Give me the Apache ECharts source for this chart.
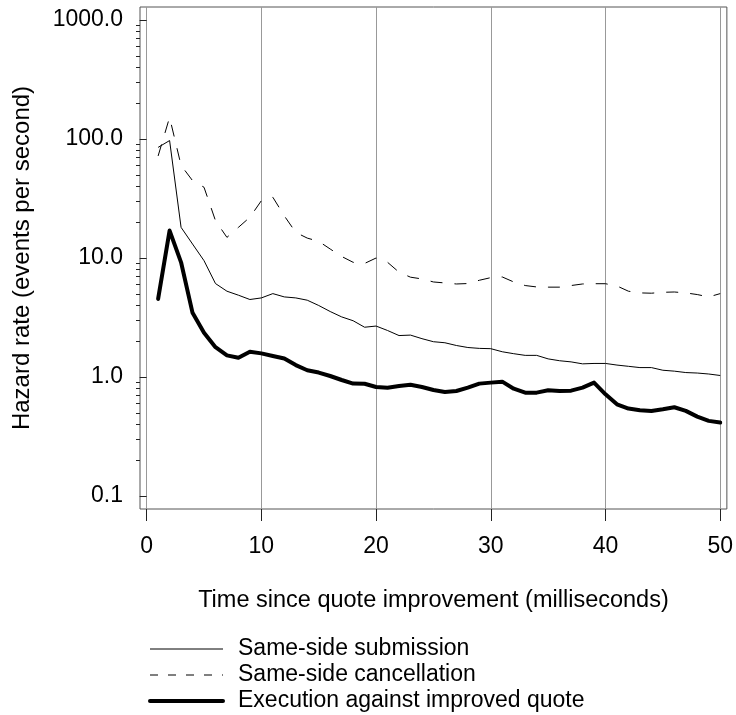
<!DOCTYPE html>
<html>
<head>
<meta charset="utf-8">
<script src="https://cdn.jsdelivr.net/npm/echarts@6/dist/echarts.min.js"></script>
<style>
  html, body { margin: 0; padding: 0; background: #fff; }
  #chart { width: 736px; height: 715px; }
</style>
</head>
<body>
<div id="chart"></div>
<script>
// Time since quote improvement, in milliseconds
const times = [1,2,3,4,5,6,7,8,9,10,11,12,13,14,15,16,17,18,19,20,21,22,23,24,25,
               26,27,28,29,30,31,32,33,34,35,36,37,38,39,40,41,42,43,44,45,46,47,48,49,50];

// Hazard rates (events per second)
const submission = [85, 97, 18.1, 13.1, 9.5, 6.1, 5.26, 4.87, 4.48, 4.62,
                    5.02, 4.71, 4.62, 4.42, 3.99, 3.55, 3.2, 2.97, 2.62, 2.68,
                    2.46, 2.23, 2.25, 2.1, 1.98, 1.94, 1.84, 1.77, 1.74, 1.73,
                    1.63, 1.57, 1.52, 1.52, 1.42, 1.37, 1.34, 1.29, 1.3, 1.3,
                    1.26, 1.23, 1.2, 1.2, 1.14, 1.12, 1.09, 1.08, 1.06, 1.03];

const cancellation = [72, 152, 60, 44.7, 39.3, 20.6, 14.9, 18.1, 22, 30.3,
                      32.4, 22.6, 16.4, 14.7, 13.8, 11.9, 10.3, 9.2, 9.0, 10.0,
                      9.2, 7.6, 6.9, 6.67, 6.29, 6.17, 6.05, 6.1, 6.5, 6.84,
                      6.93, 6.29, 5.87, 5.71, 5.69, 5.69, 5.87, 6.05, 6.08, 6.08,
                      5.82, 5.26, 5.09, 5.06, 5.15, 5.18, 5.09, 4.93, 4.71, 5.02];

const execution = [4.53, 17, 9.2, 3.46, 2.35, 1.78, 1.52, 1.45, 1.63, 1.58,
                   1.5, 1.43, 1.26, 1.14, 1.09, 1.02, 0.944, 0.88, 0.877, 0.825,
                   0.814, 0.84, 0.86, 0.824, 0.778, 0.749, 0.763, 0.814, 0.88, 0.897,
                   0.914, 0.798, 0.739, 0.739, 0.773, 0.763, 0.768, 0.814, 0.897, 0.716,
                   0.59, 0.543, 0.526, 0.519, 0.536, 0.557, 0.519, 0.465, 0.428, 0.414];

// Axis tick values
const xTicks = [0, 10, 20, 30, 40, 50];
const yTicks = [0.1, 1, 10, 100, 1000];
const yMinorTicks = [0.2, 0.3, 0.4, 0.5, 0.6, 0.7, 0.8, 0.9,
                     2, 3, 4, 5, 6, 7, 8, 9,
                     20, 30, 40, 50, 60, 70, 80, 90,
                     200, 300, 400, 500, 600, 700, 800, 900];

const seriesNames = ['Same-side submission', 'Same-side cancellation', 'Execution against improved quote'];

const FONT = '"Liberation Sans", Arial, Helvetica, sans-serif';
const pairs = arr => times.map((t, i) => [t, arr[i]]);

// Axis ranges padded a little beyond the first/last tick
const X_MIN = -0.58, X_MAX = 50.58;
const Y_MIN = Math.pow(10, -1.109), Y_MAX = Math.pow(10, 3.109);

// Line looks for the plotted curves and their legend keys
const lineLooks = [
  { color: '#000', width: 1, type: 'solid' },
  { color: '#000', width: 1, type: [12, 12] },
  { color: '#000', width: 4, type: 'solid' }
];
const legendLooks = [
  { color: '#000', width: 1, type: 'solid' },
  { color: '#000', width: 1, type: [8, 10] },
  { color: '#000', width: 4, type: 'solid' }
];

const chart = echarts.init(document.getElementById('chart'), null, { renderer: 'canvas' });

chart.setOption({
  animation: false,
  backgroundColor: '#fff',
  textStyle: { fontFamily: FONT, color: '#000' },
  grid: {
    left: 140, right: 6, top: 7, bottom: 206,
    show: true, borderColor: '#555', borderWidth: 1, backgroundColor: 'transparent'
  },
  legend: {
    orient: 'vertical',
    left: 148, top: 637,
    padding: 0,
    itemWidth: 73, itemHeight: 13, itemGap: 2,
    textStyle: { fontFamily: FONT, fontSize: 23, color: '#000', lineHeight: 24, padding: [0, 0, 0, 10] },
    data: seriesNames.map((name, i) => ({
      name,
      itemStyle: { color: 'rgba(0,0,0,0)', borderWidth: 0, opacity: 0 },
      lineStyle: legendLooks[i]
    }))
  },
  xAxis: {
    type: 'value',
    min: X_MIN, max: X_MAX,
    name: 'Time since quote improvement (milliseconds)',
    nameLocation: 'middle', nameGap: 80,
    nameTextStyle: { fontFamily: FONT, fontSize: 23.5, color: '#000' },
    axisLine: { show: false },
    axisTick: { show: true, inside: false, length: 12, customValues: xTicks, lineStyle: { color: '#222', width: 1 } },
    axisLabel: { customValues: xTicks, margin: 26, fontFamily: FONT, fontSize: 23, color: '#000',
                 formatter: v => String(Math.round(v)) },
    splitLine: { show: true, lineStyle: { color: '#999', width: 1 } }
  },
  yAxis: [
    {
      type: 'log', logBase: 10,
      min: Y_MIN, max: Y_MAX,
      position: 'left',
      name: 'Hazard rate (events per second)',
      nameLocation: 'middle', nameGap: 106, nameRotate: 90,
      nameTextStyle: { fontFamily: FONT, fontSize: 24, color: '#000' },
      axisLine: { show: false },
      axisTick: { show: true, inside: false, length: 7, customValues: yTicks, lineStyle: { color: '#222', width: 1 } },
      axisLabel: { customValues: yTicks, margin: 17, fontFamily: FONT, fontSize: 23, color: '#000',
                   formatter: v => Number(v).toFixed(1) },
      splitLine: { show: false }
    },
    {
      // minor ticks between decades
      type: 'log', logBase: 10,
      min: Y_MIN, max: Y_MAX,
      position: 'left', offset: 0,
      axisLine: { show: false },
      axisTick: { show: true, inside: false, length: 4, customValues: yMinorTicks, lineStyle: { color: '#222', width: 1 } },
      axisLabel: { show: false },
      splitLine: { show: false }
    }
  ],
  series: [
    {
      name: seriesNames[0], type: 'line', data: pairs(submission),
      symbol: 'none', showSymbol: false,
      lineStyle: lineLooks[0],
      itemStyle: { color: '#000' }, z: 3
    },
    {
      name: seriesNames[1], type: 'line', data: pairs(cancellation),
      symbol: 'none', showSymbol: false,
      lineStyle: lineLooks[1],
      itemStyle: { color: '#000' }, z: 3
    },
    {
      name: seriesNames[2], type: 'line', data: pairs(execution),
      symbol: 'none', showSymbol: false,
      lineStyle: Object.assign({ join: 'round', cap: 'round' }, lineLooks[2]),
      itemStyle: { color: '#000' }, z: 4
    }
  ]
});
</script>
</body>
</html>
